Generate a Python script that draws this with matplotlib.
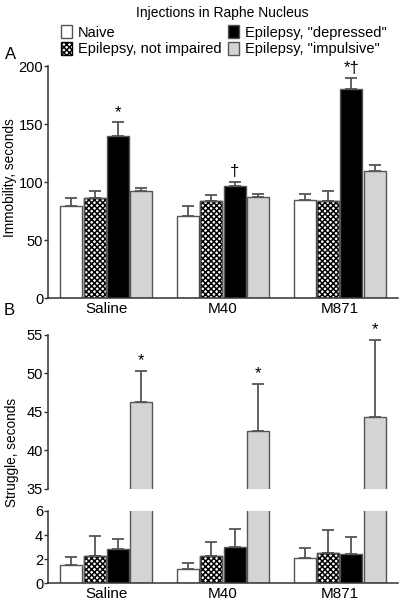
import numpy as np
import matplotlib
matplotlib.use("Agg")
import matplotlib.pyplot as plt

plt.rcParams['font.family'] = ['Liberation Sans', 'DejaVu Sans']
plt.rcParams['hatch.linewidth'] = 1.1

groups = ["Saline", "M40", "M871"]
series = ["Naive", "Epilepsy, not impaired", 'Epilepsy, "depressed"', 'Epilepsy, "impulsive"']

# panel A: immobility (seconds), rows = series, cols = groups
immob = [[79, 71, 84.5],
         [86, 84, 83.3],
         [139.5, 96.5, 180.5],
         [92.5, 87.5, 110]]
immob_err = [[7.5, 8, 5],
             [6.5, 4.5, 9],
             [12, 4, 9],
             [2.5, 2, 5]]
immob_marks = [(2, 0, "*"), (2, 1, "\u2020"), (2, 2, "*\u2020")]

# panel B: struggle (seconds)
struggle = [[1.5, 1.2, 2.1],
            [2.3, 2.3, 2.55],
            [2.85, 3.05, 2.4],
            [46.3, 42.5, 44.3]]
struggle_err = [[0.65, 0.5, 0.85],
                [1.65, 1.15, 1.9],
                [0.85, 1.45, 1.45],
                [4.0, 6.1, 10.0]]
struggle_marks = [(3, 0, "*"), (3, 1, "*"), (3, 2, "*")]

faces = ["white", "white", "black", "#d4d4d4"]
hatches = [None, "xxxxxx", None, None]
edge = "#555555"
width = 0.19
step = 0.2
x = np.arange(len(groups))


def draw_bars(ax, vals, errs):
    for i in range(len(series)):
        xs = x + (i - 1.5) * step
        ax.bar(xs, vals[i], width, color=faces[i], hatch=hatches[i],
               edgecolor="black" if hatches[i] else edge, linewidth=1.0, zorder=2)
        if hatches[i]:
            ax.bar(xs, vals[i], width, fill=False, edgecolor=edge, linewidth=1.0, zorder=3)
        ax.errorbar(xs, vals[i], yerr=[np.zeros(3), errs[i]], fmt="none",
                    ecolor=edge, elinewidth=1.3, capsize=4.5, capthick=1.3, zorder=1)


def style(ax, bottom=True):
    for s in ["top", "right"]:
        ax.spines[s].set_visible(False)
    ax.spines["left"].set_color("#333333")
    ax.spines["bottom"].set_color("#333333")
    ax.spines["left"].set_linewidth(1.1)
    ax.spines["bottom"].set_linewidth(1.1)
    if not bottom:
        ax.spines["bottom"].set_visible(False)
    ax.tick_params(axis="y", labelsize=10.5, length=3, width=1, color="#333333", pad=0.5)
    ax.tick_params(axis="x", labelsize=11, length=0, pad=3)
    ax.set_xlim(-0.5, 2.5)


fig = plt.figure(figsize=(4.0, 6.01), dpi=100)

# panel A
axA = fig.add_axes([0.12, 0.504, 0.875, 0.386])
draw_bars(axA, immob, immob_err)
axA.set_ylim(0, 200)
axA.set_yticks([0, 50, 100, 150, 200])
axA.set_xticks(x)
axA.set_xticklabels(groups)
style(axA)
for i, g, t in immob_marks:
    top = immob[i][g] + immob_err[i][g]
    axA.text(x[g] + (i - 1.5) * step, top + 2, t, ha="center", va="bottom", fontsize=12)
fig.text(0.026, 0.704, "Immobility, seconds", rotation=90, ha="center", va="center", fontsize=9.8)

# panel B, broken axis
axBt = fig.add_axes([0.12, 0.1864, 0.875, 0.2562])
axBb = fig.add_axes([0.12, 0.0295, 0.875, 0.1203])
for ax in (axBt, axBb):
    draw_bars(ax, struggle, struggle_err)
axBt.set_ylim(35, 55)
axBt.set_yticks([35, 40, 45, 50, 55])
axBt.set_xticks([])
style(axBt, bottom=False)
axBb.set_ylim(0, 6)
axBb.set_yticks([0, 2, 4, 6])
axBb.set_xticks(x)
axBb.set_xticklabels(groups)
style(axBb)
for i, g, t in struggle_marks:
    top = struggle[i][g] + struggle_err[i][g]
    axBt.text(x[g] + (i - 1.5) * step, top + 0.4, t, ha="center", va="bottom", fontsize=12)
fig.text(0.03, 0.248, "Struggle, seconds", rotation=90, ha="center", va="center", fontsize=9.8)

# labels, title, legend
fig.text(0.555, 0.978, "Injections in Raphe Nucleus", ha="center", va="center", fontsize=10)
fig.text(0.027, 0.91, "A", ha="center", va="center", fontsize=12)
fig.text(0.022, 0.484, "B", ha="center", va="center", fontsize=12)

handles = [plt.Rectangle((0, 0), 1, 1, facecolor=faces[i], hatch=hatches[i],
                         edgecolor="black" if hatches[i] else edge, linewidth=1.0)
           for i in range(len(series))]
fig.legend(handles, series,
           loc="upper left", bbox_to_anchor=(0.152, 0.958), ncol=2, frameon=False,
           fontsize=10.5, handlelength=0.8, handleheight=1.0, handletextpad=0.35,
           columnspacing=0.45, labelspacing=0.15, borderaxespad=0, borderpad=0)

fig.savefig("out.png", dpi=100)
